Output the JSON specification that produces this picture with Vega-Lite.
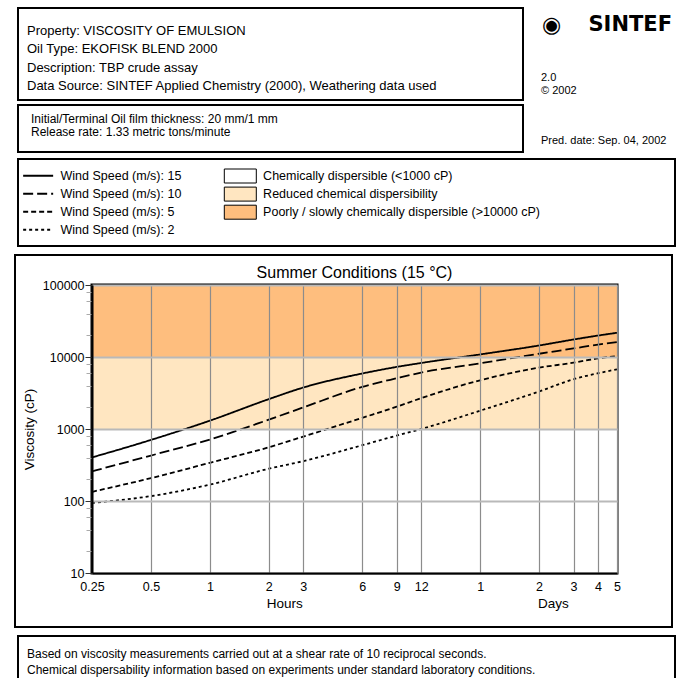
{
  "$schema": "https://vega.github.io/schema/vega-lite/v6.json",
  "padding": {"left": 12, "top": 7, "right": 0, "bottom": 0},
  "background": "white",
  "config": {
    "view": {"stroke": "black", "strokeWidth": 2},
    "font": "Liberation Sans",
    "text": {"font": "Liberation Sans", "color": "black"}
  },
  "datasets": {
    "header": [
      {"text": ["Property: VISCOSITY OF EMULSION", "Oil Type: EKOFISK BLEND 2000", "Description: TBP crude assay", "Data Source: SINTEF Applied Chemistry (2000), Weathering data used"]}
    ],
    "conditions": [
      {"text": ["Initial/Terminal Oil film thickness: 20 mm/1 mm", "Release rate: 1.33 metric tons/minute"]}
    ],
    "brand": [
      {"part": "emblem", "text": "◉"},
      {"part": "name", "text": "SINTEF"}
    ],
    "meta": [
      {"block": "version", "text": ["2.0", "© 2002"]},
      {"block": "pred", "text": ["Pred. date: Sep. 04, 2002"]}
    ],
    "windKeys": [{"wind": 15}, {"wind": 10}, {"wind": 5}, {"wind": 2}],
    "zones": [
      {"zone": "Chemically dispersible (<1000 cP)", "lo": 10, "hi": 1000},
      {"zone": "Reduced chemical dispersibility", "lo": 1000, "hi": 10000},
      {"zone": "Poorly / slowly chemically dispersible (>10000 cP)", "lo": 10000, "hi": 100000}
    ],
    "curves": [
      {"wind": 15, "hours": 0.25, "visc": 403},
      {"wind": 15, "hours": 0.5, "visc": 705},
      {"wind": 15, "hours": 1, "visc": 1306},
      {"wind": 15, "hours": 2, "visc": 2600},
      {"wind": 15, "hours": 3, "visc": 3767},
      {"wind": 15, "hours": 6, "visc": 5900},
      {"wind": 15, "hours": 9, "visc": 7280},
      {"wind": 15, "hours": 12, "visc": 8260},
      {"wind": 15, "hours": 24, "visc": 10860},
      {"wind": 15, "hours": 48, "visc": 14450},
      {"wind": 15, "hours": 72, "visc": 17500},
      {"wind": 15, "hours": 96, "visc": 19850},
      {"wind": 15, "hours": 120, "visc": 21700},
      {"wind": 10, "hours": 0.25, "visc": 258},
      {"wind": 10, "hours": 0.5, "visc": 428},
      {"wind": 10, "hours": 1, "visc": 714},
      {"wind": 10, "hours": 2, "visc": 1349},
      {"wind": 10, "hours": 3, "visc": 1995},
      {"wind": 10, "hours": 6, "visc": 3850},
      {"wind": 10, "hours": 9, "visc": 5070},
      {"wind": 10, "hours": 12, "visc": 6070},
      {"wind": 10, "hours": 24, "visc": 8160},
      {"wind": 10, "hours": 48, "visc": 11100},
      {"wind": 10, "hours": 72, "visc": 13150},
      {"wind": 10, "hours": 96, "visc": 14900},
      {"wind": 10, "hours": 120, "visc": 16100},
      {"wind": 5, "hours": 0.25, "visc": 134},
      {"wind": 5, "hours": 0.5, "visc": 208},
      {"wind": 5, "hours": 1, "visc": 339},
      {"wind": 5, "hours": 2, "visc": 558},
      {"wind": 5, "hours": 3, "visc": 785},
      {"wind": 5, "hours": 6, "visc": 1430},
      {"wind": 5, "hours": 9, "visc": 2040},
      {"wind": 5, "hours": 12, "visc": 2680},
      {"wind": 5, "hours": 24, "visc": 4750},
      {"wind": 5, "hours": 48, "visc": 7110},
      {"wind": 5, "hours": 72, "visc": 8340},
      {"wind": 5, "hours": 96, "visc": 9570},
      {"wind": 5, "hours": 120, "visc": 10300},
      {"wind": 2, "hours": 0.25, "visc": 94},
      {"wind": 2, "hours": 0.5, "visc": 117},
      {"wind": 2, "hours": 1, "visc": 169},
      {"wind": 2, "hours": 2, "visc": 281},
      {"wind": 2, "hours": 3, "visc": 358},
      {"wind": 2, "hours": 6, "visc": 595},
      {"wind": 2, "hours": 9, "visc": 811},
      {"wind": 2, "hours": 12, "visc": 1000},
      {"wind": 2, "hours": 24, "visc": 1795},
      {"wind": 2, "hours": 48, "visc": 3320},
      {"wind": 2, "hours": 72, "visc": 4910},
      {"wind": 2, "hours": 96, "visc": 5950},
      {"wind": 2, "hours": 120, "visc": 6740}
    ],
    "footer": [
      {"text": ["Based on viscosity measurements carried out at a shear rate of 10 reciprocal seconds.", "Chemical dispersability information based on experiments under standard laboratory conditions."]}
    ]
  },
  "resolve": {
    "scale": {"strokeDash": "independent", "fill": "independent"},
    "legend": {"strokeDash": "independent", "fill": "independent"}
  },
  "spacing": 5,
  "vconcat": [
    {
      "spacing": 4,
      "hconcat": [
        {
          "spacing": 3,
          "vconcat": [
            {
              "width": 505,
              "height": 92,
              "data": {"name": "header"},
              "mark": {"type": "text", "align": "left", "baseline": "middle", "dx": 9, "dy": -23.5, "fontSize": 13, "lineHeight": 18.5},
              "encoding": {
                "x": {"datum": 0, "type": "quantitative", "scale": {"domain": [0, 1]}, "axis": null},
                "text": {"field": "text"}
              }
            },
            {
              "width": 505,
              "height": 47,
              "data": {"name": "conditions"},
              "mark": {"type": "text", "align": "left", "baseline": "middle", "dx": 13, "dy": -9.5, "fontSize": 12, "lineHeight": 12.5},
              "encoding": {
                "x": {"datum": 0, "type": "quantitative", "scale": {"domain": [0, 1]}, "axis": null},
                "text": {"field": "text"}
              }
            }
          ]
        },
        {
          "spacing": 0,
          "vconcat": [
            {
              "width": 150,
              "height": 33,
              "view": {"stroke": null},
              "data": {"name": "brand"},
              "layer": [
                {
                  "transform": [{"filter": "datum.part === 'emblem'"}],
                  "mark": {"type": "text", "align": "left", "baseline": "middle", "dx": 14, "fontSize": 22, "font": "DejaVu Sans"},
                  "encoding": {
                    "x": {"datum": 0, "type": "quantitative", "scale": {"domain": [0, 1]}, "axis": null},
                    "text": {"field": "text"}
                  }
                },
                {
                  "transform": [{"filter": "datum.part === 'name'"}],
                  "mark": {"type": "text", "align": "right", "baseline": "middle", "dx": -6, "fontSize": 21, "fontWeight": "bold", "font": "DejaVu Sans"},
                  "encoding": {
                    "x": {"datum": 1, "type": "quantitative", "scale": {"domain": [0, 1]}, "axis": null},
                    "text": {"field": "text"}
                  }
                }
              ]
            },
            {
              "width": 150,
              "height": 112,
              "view": {"stroke": null},
              "data": {"name": "meta"},
              "mark": {"type": "text", "align": "left", "baseline": "middle", "dx": 13, "dy": 12.6, "fontSize": 11, "lineHeight": 13},
              "encoding": {
                "x": {"datum": 0, "type": "quantitative", "scale": {"domain": [0, 1]}, "axis": null},
                "y": {"field": "block", "type": "nominal", "scale": {"type": "point", "domain": ["version", "pred"], "padding": 0.4}, "axis": null},
                "text": {"field": "text"}
              }
            }
          ]
        }
      ]
    },
    {
      "width": 657,
      "height": 87,
      "view": {"stroke": "black", "strokeWidth": 2},
      "layer": [
        {
          "data": {"name": "windKeys"},
          "mark": {"type": "line", "color": "black", "strokeWidth": 1.8},
          "encoding": {
            "x": {"datum": 0, "type": "quantitative", "scale": {"domain": [0, 1]}, "axis": null},
            "strokeDash": {
              "field": "wind",
              "type": "ordinal",
              "scale": {"domain": [15, 10, 5, 2], "range": [[1, 0], [10, 4], [5, 3], [3, 3]]},
              "legend": {
                "orient": "none",
                "legendX": 13.9,
                "legendY": 10.5,
                "title": null,
                "padding": 0,
                "symbolType": "M-3,0H3",
                "symbolSize": 100,
                "symbolStrokeWidth": 1.8,
                "symbolStrokeColor": "black",
                "symbolOpacity": 1,
                "labelOffset": 16.1,
                "rowPadding": 5,
                "labelFontSize": 12.5,
                "labelFont": "Liberation Sans",
                "labelColor": "black",
                "labelExpr": "'Wind Speed (m/s): ' + datum.label"
              }
            }
          }
        },
        {
          "data": {"name": "zones"},
          "mark": {"type": "area"},
          "encoding": {
            "fill": {
              "field": "zone",
              "type": "nominal",
              "scale": {
                "domain": ["Chemically dispersible (<1000 cP)", "Reduced chemical dispersibility", "Poorly / slowly chemically dispersible (>10000 cP)"],
                "range": ["#ffffff", "#ffe6c1", "#febe7e"]
              },
              "legend": {
                "orient": "none",
                "legendX": 214.8,
                "legendY": 9.5,
                "title": null,
                "padding": 0,
                "symbolType": "M-2.286,-1H2.286V1H-2.286Z",
                "symbolSize": 196,
                "symbolStrokeColor": "black",
                "symbolStrokeWidth": 1,
                "symbolOpacity": 1,
                "labelOffset": 15.3,
                "rowPadding": -0.9,
                "labelFontSize": 12.5,
                "labelFont": "Liberation Sans",
                "labelColor": "black",
                "labelLimit": 400
              }
            }
          }
        }
      ]
    },
    {
      "spacing": -7,
      "hconcat": [
        {
          "width": 1,
          "height": 1,
          "view": {"stroke": null},
          "data": {"values": []},
          "mark": "point"
        },
        {
          "width": 525,
          "height": 288,
          "view": {"stroke": "black", "strokeWidth": 3},
          "title": {"text": "Summer Conditions (15 °C)", "frame": "group", "anchor": "middle", "offset": -27, "fontSize": 16, "fontWeight": "normal", "font": "Liberation Sans", "color": "black"},
          "layer": [
            {
              "data": {"values": [{}]},
              "mark": {"type": "rect", "fillOpacity": 0, "stroke": "black", "strokeWidth": 2, "clip": false},
              "encoding": {
                "x": {"value": -77},
                "x2": {"value": 580},
                "y": {"value": -30},
                "y2": {"value": 342}
              }
            },
            {
              "data": {"name": "zones"},
              "mark": {"type": "rect"},
              "encoding": {
                "x": {
                  "datum": 0.25,
                  "type": "quantitative",
                  "scale": {"type": "log", "domain": [0.25, 120], "nice": false},
                  "axis": {
                    "orient": "bottom",
                    "values": [2.4, 56.5],
                    "labelExpr": "datum.value < 10 ? 'Hours' : 'Days'",
                    "title": null,
                    "ticks": false,
                    "domain": false,
                    "grid": false,
                    "labelPadding": 23,
                    "labelFontSize": 13.5,
                    "labelColor": "black",
                    "labelOverlap": false,
                    "labelFlush": false
                  }
                },
                "x2": {"datum": 120},
                "y": {
                  "field": "lo",
                  "type": "quantitative",
                  "scale": {"type": "log", "domain": [10, 100000], "nice": false},
                  "axis": {
                    "orient": "left",
                    "values": [20, 40, 60, 80, 200, 400, 600, 800, 2000, 4000, 6000, 8000, 20000, 40000, 60000, 80000],
                    "title": null,
                    "labels": false,
                    "domain": false,
                    "grid": false,
                    "tickSize": 6,
                    "tickColor": "#aaaaaa",
                    "tickWidth": 1
                  }
                },
                "y2": {"field": "hi"},
                "fill": {
                  "field": "zone",
                  "type": "nominal",
                  "scale": {
                    "domain": ["Chemically dispersible (<1000 cP)", "Reduced chemical dispersibility", "Poorly / slowly chemically dispersible (>10000 cP)"],
                    "range": ["#ffffff", "#ffe6c1", "#febe7e"]
                  },
                  "legend": null
                }
              }
            },
            {
              "data": {"name": "curves"},
              "mark": {"type": "line", "color": "black", "strokeWidth": 1.8, "interpolate": "monotone"},
              "encoding": {
                "x": {
                  "field": "hours",
                  "type": "quantitative",
                  "scale": {"type": "log", "domain": [0.25, 120], "nice": false},
                  "axis": {
                    "orient": "bottom",
                    "values": [0.25, 0.5, 1, 2, 3, 6, 9, 12, 24, 48, 72, 96, 120],
                    "labelExpr": "datum.value >= 24 ? '' + (datum.value / 24) : '' + datum.value",
                    "title": null,
                    "grid": true,
                    "gridColor": "#8c8c8c",
                    "gridWidth": 1.2,
                    "tickSize": 0,
                    "labelPadding": 7,
                    "labelFontSize": 12.5,
                    "labelColor": "black",
                    "labelOverlap": false,
                    "labelFlush": false,
                    "domainColor": "black",
                    "domainWidth": 2,
                    "zindex": 1
                  }
                },
                "y": {
                  "field": "visc",
                  "type": "quantitative",
                  "scale": {"type": "log", "domain": [10, 100000], "nice": false},
                  "axis": {
                    "orient": "left",
                    "values": [10, 100, 1000, 10000, 100000],
                    "format": "d",
                    "title": "Viscosity (cP)",
                    "titleFontSize": 13.5,
                    "titleFontWeight": "normal",
                    "titleColor": "black",
                    "titlePadding": 6,
                    "grid": true,
                    "gridColor": "#b9b9b9",
                    "gridWidth": 2,
                    "tickSize": 7,
                    "tickColor": "#333333",
                    "labelFontSize": 12.5,
                    "labelColor": "black",
                    "labelPadding": 1,
                    "labelOverlap": false,
                    "domainColor": "black",
                    "domainWidth": 2,
                    "zindex": 1
                  }
                },
                "strokeDash": {
                  "field": "wind",
                  "type": "ordinal",
                  "scale": {"domain": [15, 10, 5, 2], "range": [[1, 0], [10, 4], [5, 3], [3, 3]]},
                  "legend": null
                }
              }
            }
          ],
          "resolve": {"axis": {"x": "independent", "y": "independent"}}
        }
      ]
    },
    {
      "width": 657,
      "height": 48,
      "data": {"name": "footer"},
      "mark": {"type": "text", "align": "left", "baseline": "middle", "dx": 9, "dy": -6, "fontSize": 12, "lineHeight": 15.5},
      "encoding": {
        "x": {"datum": 0, "type": "quantitative", "scale": {"domain": [0, 1]}, "axis": null},
        "text": {"field": "text"}
      }
    }
  ]
}
